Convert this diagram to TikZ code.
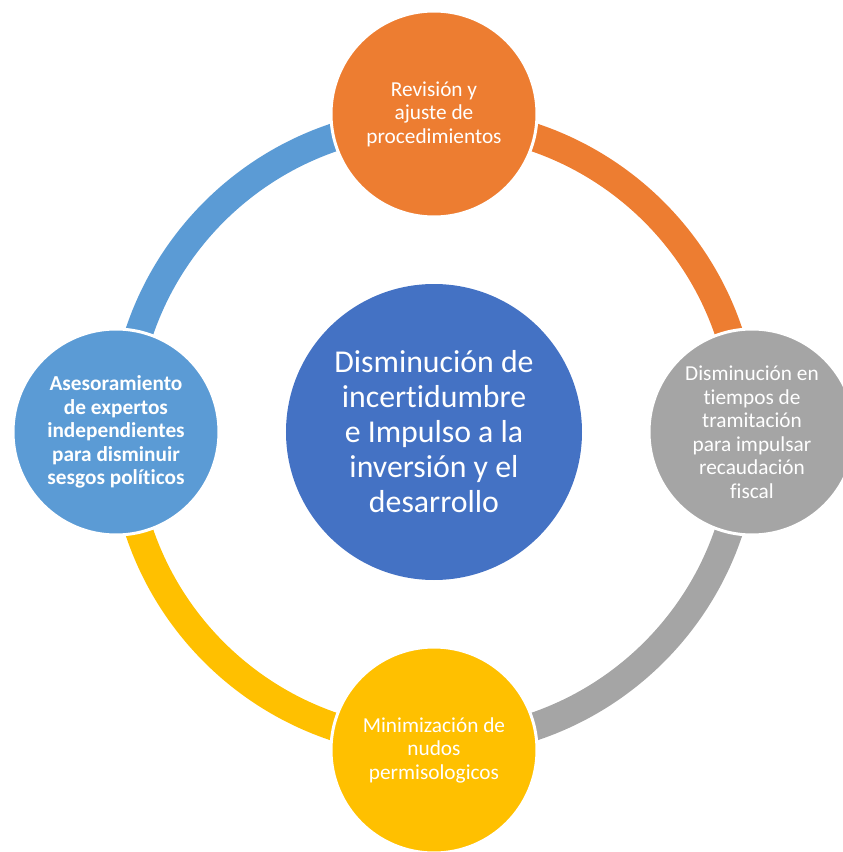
\documentclass[tikz,border=0pt]{standalone}
\usepackage{fontspec}
\setmainfont{Carlito}[Ligatures=NoCommon]
\definecolor{orng}{HTML}{ED7D31}
\definecolor{gry}{HTML}{A5A5A5}
\definecolor{yllw}{HTML}{FFC000}
\definecolor{lblue}{HTML}{5B9BD5}
\definecolor{dblue}{HTML}{4472C4}

\begin{document}
\begin{tikzpicture}[x=1pt, y=1pt]
    \tikzset{item/.style={circle, draw=white, line width=3pt, minimum size=206pt, inner sep=0pt, text=white, align=center, font=\fontsize{21.3}{23.5}\selectfont}};
    \tikzset{band/.style={line width=28pt}};

    \useasboundingbox (-434, -420) rectangle (409, 432);

    % Ring
    \path (90:311) coordinate (rt);
    \path (0:311) coordinate (rr);
    \path (-90:311) coordinate (rb);
    \path (180:311) coordinate (rl);

    \foreach \i/\j/\c in {t/r/orng, r/b/gry, b/l/yllw, l/t/lblue} { \draw[band, \c] (r\i) to[bend left=45] (r\j); };

    % Center
    \node [circle, fill=dblue, minimum size=296pt, inner sep=0pt, text=white, align=center, font=\fontsize{31.8}{35}\selectfont] (c) at (0, 0) {Disminución de\\incertidumbre\\e Impulso a la\\inversión y el\\desarrollo};

    % Satellites
    \node [item, fill=orng] (t) at (90:318) {Revisión y\\ajuste de\\procedimientos};
    \node [item, fill=gry] (r) at (0:318) {Disminución en\\tiempos de\\tramitación\\para impulsar\\recaudación\\fiscal};
    \node [item, fill=yllw] (b) at (-90:318) {Minimización de\\nudos\\permisologicos};
    \node [item, fill=lblue, font=\fontsize{21.3}{23.5}\selectfont\bfseries] (l) at (180:318) {Asesoramiento\\de expertos\\independientes\\para disminuir\\sesgos políticos};
\end{tikzpicture}
\end{document}
